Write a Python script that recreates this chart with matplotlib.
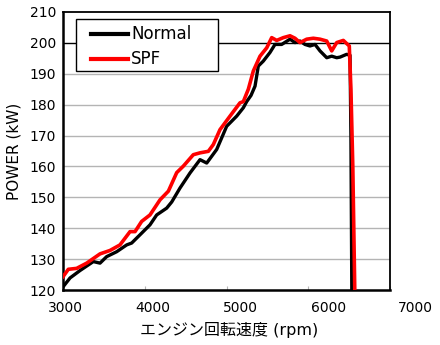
import matplotlib
matplotlib.use("Agg")
import matplotlib.pyplot as plt
from matplotlib.patches import Rectangle

# engine speed (rpm) / power (kW)
normal_rpm = [3000, 3086, 3208, 3371, 3453, 3534, 3657, 3779, 3840, 3962,
              4064, 4146, 4268, 4330, 4431, 4554, 4676, 4758, 4880, 5002,
              5125, 5206, 5247, 5300, 5349, 5389, 5450, 5532, 5593, 5675,
              5777, 5838, 5899, 5960, 6021, 6083, 6144, 6226, 6287, 6348,
              6389, 6470, 6511, 6522, 6535]
normal_kw = [121.0, 123.9, 126.3, 129.2, 128.7, 130.8, 132.4, 134.6, 135.2, 138.4,
             141.1, 144.3, 146.5, 148.5, 153.0, 157.9, 162.2, 161.1, 165.5, 173.0,
             176.3, 179.0, 181.0, 183.0, 186.0, 192.5, 194.1, 196.9, 199.5, 199.5,
             201.2, 200.1, 200.6, 199.5, 199.0, 199.5, 197.4, 195.2, 195.7, 195.2,
             195.4, 196.3, 196.0, 170.0, 110.0]

spf_rpm = [3000, 3065, 3167, 3290, 3453, 3575, 3697, 3820, 3881, 3962,
           4064, 4187, 4289, 4391, 4472, 4594, 4676, 4778, 4839, 4920,
           5043, 5165, 5206, 5267, 5328, 5410, 5492, 5553, 5614, 5695,
           5777, 5838, 5899, 5981, 6062, 6144, 6226, 6287, 6348, 6429,
           6502, 6522, 6545, 6575]
spf_kw = [124.3, 126.7, 127.0, 128.7, 131.7, 132.8, 134.6, 138.9, 138.9, 142.2,
          144.3, 149.2, 152.0, 158.0, 160.1, 163.8, 164.4, 164.9, 167.1, 171.9,
          176.3, 180.6, 181.0, 185.0, 190.9, 195.7, 198.4, 201.7, 200.8, 201.7,
          202.3, 201.5, 200.1, 201.2, 201.5, 201.2, 200.6, 197.4, 200.1, 200.8,
          199.0, 185.0, 160.0, 110.0]

x_ticks = [3000, 4000, 5000, 6000, 7000]
y_ticks = [120, 130, 140, 150, 160, 170, 180, 190, 200, 210]

fig = plt.figure(figsize=(4.4, 3.45), dpi=100)
ax = fig.add_axes([63 / 440, 55 / 345, 327 / 440, 278 / 345])

for y in y_ticks[1:-1]:
    ax.axhline(y, color="#000000" if y == 200 else "#b4b4b4",
               linewidth=1.0, zorder=1)

ax.plot(normal_rpm, normal_kw, color="black", linewidth=2.4,
        label="Normal", zorder=3)
ax.plot(spf_rpm, spf_kw, color="#ff0000", linewidth=2.6,
        label="SPF", zorder=4)

ax.set_xlim(3000, 7000)
ax.set_ylim(120, 210)
ax.set_yticks(y_ticks)
ax.set_yticklabels([str(v) for v in y_ticks], fontsize=10)
ax.tick_params(axis="y", length=0, pad=5)
ax.set_xticks(x_ticks)
ax.set_xticklabels([])
ax.tick_params(axis="x", direction="in", length=3, color="#b4b4b4")

# the x labels sit slightly wider apart than the tick marks in the original
for i, v in enumerate(x_ticks):
    ax.text((2 + 87.7 * i) / 327, -18 / 278, str(v), transform=ax.transAxes,
            ha="center", va="center", fontsize=10, clip_on=False)

for side in ["left", "bottom"]:
    ax.spines[side].set_linewidth(1.8)
for side in ["top", "right"]:
    ax.spines[side].set_linewidth(1.3)

ax.set_ylabel("POWER (kW)", fontsize=11, labelpad=6)
fig.text(229 / 440, 1 - 330 / 345, "エンジン回転速度 (rpm)",
         family=["DejaVu Sans", "Noto Sans CJK JP"], fontsize=11.5,
         ha="center", va="center")

# legend box is wider than its contents in the original, so draw it apart
ax.add_patch(Rectangle((0.039, 0.789), 0.436, 0.186, transform=ax.transAxes,
                       facecolor="white", edgecolor="black", linewidth=1.0,
                       zorder=5))
leg = ax.legend(loc="upper left", bbox_to_anchor=(0.0856, 0.952),
                borderaxespad=0, frameon=False, fontsize=12,
                handlelength=2.2, handletextpad=0.2, labelspacing=0.42,
                borderpad=0)
leg.set_zorder(6)
for line in leg.get_lines():
    line.set_linewidth(3.0)

fig.savefig("out.png", dpi=100)
